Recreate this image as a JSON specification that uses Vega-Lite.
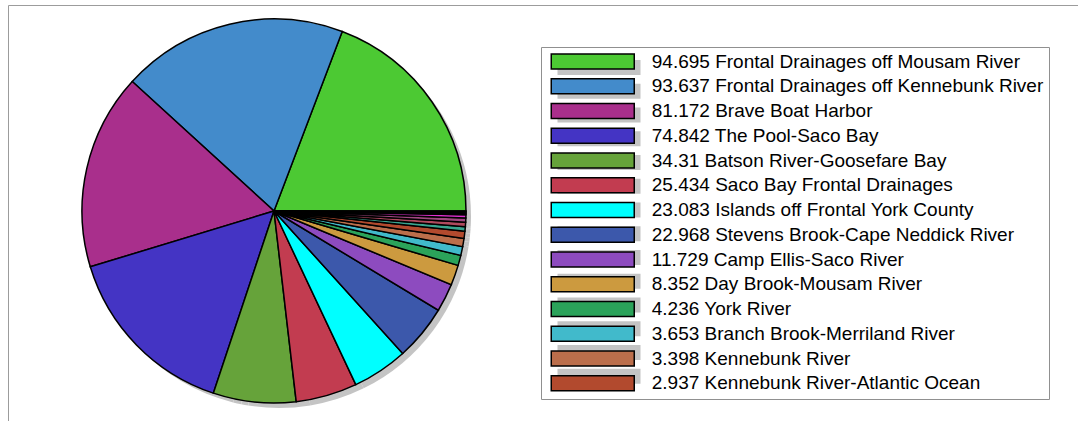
{
  "$schema": "https://vega.github.io/schema/vega-lite/v6.json",
  "width": 532,
  "height": 412,
  "padding": {"left": 8, "top": 5, "right": 538, "bottom": 4},
  "autosize": {"type": "none"},
  "background": "white",
  "config": {"view": {"stroke": null}},
  "data": {
    "values": [
      {"label": "94.695 Frontal Drainages off Mousam River", "name": "Frontal Drainages off Mousam River", "value": 94.695},
      {"label": "93.637 Frontal Drainages off Kennebunk River", "name": "Frontal Drainages off Kennebunk River", "value": 93.637},
      {"label": "81.172 Brave Boat Harbor", "name": "Brave Boat Harbor", "value": 81.172},
      {"label": "74.842 The Pool-Saco Bay", "name": "The Pool-Saco Bay", "value": 74.842},
      {"label": "34.31 Batson River-Goosefare Bay", "name": "Batson River-Goosefare Bay", "value": 34.31},
      {"label": "25.434 Saco Bay Frontal Drainages", "name": "Saco Bay Frontal Drainages", "value": 25.434},
      {"label": "23.083 Islands off Frontal York County", "name": "Islands off Frontal York County", "value": 23.083},
      {"label": "22.968 Stevens Brook-Cape Neddick River", "name": "Stevens Brook-Cape Neddick River", "value": 22.968},
      {"label": "11.729 Camp Ellis-Saco River", "name": "Camp Ellis-Saco River", "value": 11.729},
      {"label": "8.352 Day Brook-Mousam River", "name": "Day Brook-Mousam River", "value": 8.352},
      {"label": "4.236 York River", "name": "York River", "value": 4.236},
      {"label": "3.653 Branch Brook-Merriland River", "name": "Branch Brook-Merriland River", "value": 3.653},
      {"label": "3.398 Kennebunk River", "name": "Kennebunk River", "value": 3.398},
      {"label": "2.937 Kennebunk River-Atlantic Ocean", "name": "Kennebunk River-Atlantic Ocean", "value": 2.937},
      {"label": "Unlisted A", "name": "Unlisted A", "value": 1.9},
      {"label": "Unlisted B", "name": "Unlisted B", "value": 1.8},
      {"label": "Unlisted C", "name": "Unlisted C", "value": 1.7},
      {"label": "Unlisted D", "name": "Unlisted D", "value": 1.4},
      {"label": "Unlisted E", "name": "Unlisted E", "value": 0.6},
      {"label": "Unlisted F", "name": "Unlisted F", "value": 0.5},
      {"label": "Unlisted G", "name": "Unlisted G", "value": 0.4}
    ]
  },
  "layer": [
    {
      "mark": {"type": "arc", "outerRadius": 192, "stroke": null, "xOffset": 5, "yOffset": 5},
      "encoding": {
        "theta": {"field": "value", "type": "quantitative", "stack": true},
        "fill": {
          "field": "name",
          "type": "nominal",
          "sort": null,
          "scale": {"range": ["#c4c4c4"]},
          "legend": {
            "orient": "none",
            "legendX": 539,
            "legendY": 48,
            "zindex": 1,
            "title": null,
            "values": ["Frontal Drainages off Mousam River", "Frontal Drainages off Kennebunk River", "Brave Boat Harbor", "The Pool-Saco Bay", "Batson River-Goosefare Bay", "Saco Bay Frontal Drainages", "Islands off Frontal York County", "Stevens Brook-Cape Neddick River", "Camp Ellis-Saco River", "Day Brook-Mousam River", "York River", "Branch Brook-Merriland River", "Kennebunk River", "Kennebunk River-Atlantic Ocean"],
            "symbolType": "M-5,-0.9H5V0.9H-5Z",
            "symbolSize": 275.56,
            "symbolOffset": 37.5,
            "symbolStrokeWidth": 0,
            "labelFont": "Liberation Sans",
            "labelFontSize": 19,
            "labelOpacity": 0,
            "labelExpr": "' '",
            "labelLimit": 600,
            "labelOffset": 17,
            "rowPadding": 3.75,
            "padding": 5
          }
        },
        "opacity": {
          "field": "value",
          "type": "quantitative",
          "scale": {"range": [1, 1]},
          "legend": {
            "orient": "none",
            "legendX": 0,
            "legendY": 0,
            "zindex": 0,
            "title": null,
            "values": [50],
            "symbolSize": 1,
            "symbolOpacity": 0,
            "labelOpacity": 0,
            "labelExpr": "''",
            "labelLimit": 20,
            "padding": 540,
            "strokeColor": "#9c9c9c"
          }
        }
      }
    },
    {
      "mark": {"type": "arc", "outerRadius": 192, "stroke": "black", "strokeWidth": 1.5},
      "encoding": {
        "theta": {"field": "value", "type": "quantitative", "stack": true, "scale": {"range": [1.5708, -4.7124]}},
        "order": {"field": "value", "sort": "descending"},
        "color": {
          "field": "label",
          "type": "nominal",
          "sort": null,
          "scale": {"range": ["#4CC933", "#438BCB", "#A92F8C", "#4434C4", "#66A33A", "#C23C50", "#00FFFF", "#3C58AB", "#8D4BBF", "#CC9A3F", "#2BA35A", "#41BACB", "#BB6E4B", "#B24A2E", "#3AA58F", "#B04A5E", "#A04880", "#E030D0", "#502050", "#303060", "#402020"]},
          "legend": {
            "orient": "none",
            "legendX": 533,
            "legendY": 42,
            "zindex": 2,
            "title": null,
            "values": ["94.695 Frontal Drainages off Mousam River", "93.637 Frontal Drainages off Kennebunk River", "81.172 Brave Boat Harbor", "74.842 The Pool-Saco Bay", "34.31 Batson River-Goosefare Bay", "25.434 Saco Bay Frontal Drainages", "23.083 Islands off Frontal York County", "22.968 Stevens Brook-Cape Neddick River", "11.729 Camp Ellis-Saco River", "8.352 Day Brook-Mousam River", "4.236 York River", "3.653 Branch Brook-Merriland River", "3.398 Kennebunk River", "2.937 Kennebunk River-Atlantic Ocean"],
            "symbolType": "M-5,-0.9H5V0.9H-5Z",
            "symbolSize": 275.56,
            "symbolStrokeColor": "black",
            "symbolStrokeWidth": 1.5,
            "symbolOffset": 37.25,
            "labelFont": "Liberation Sans",
            "labelFontSize": 19,
            "labelColor": "black",
            "labelLimit": 600,
            "labelOffset": 49.5,
            "labelExpr": "(indexof(datum.label, ' ') < 6 ? '\u2007' : '') + datum.label",
            "rowPadding": 3.75,
            "padding": 5,
            "strokeColor": "#909090",
            "encode": {"symbols": {"update": {"stroke": {"value": "black"}, "strokeWidth": {"value": 1.5}, "opacity": {"value": 1}}}}
          }
        }
      }
    }
  ]
}
